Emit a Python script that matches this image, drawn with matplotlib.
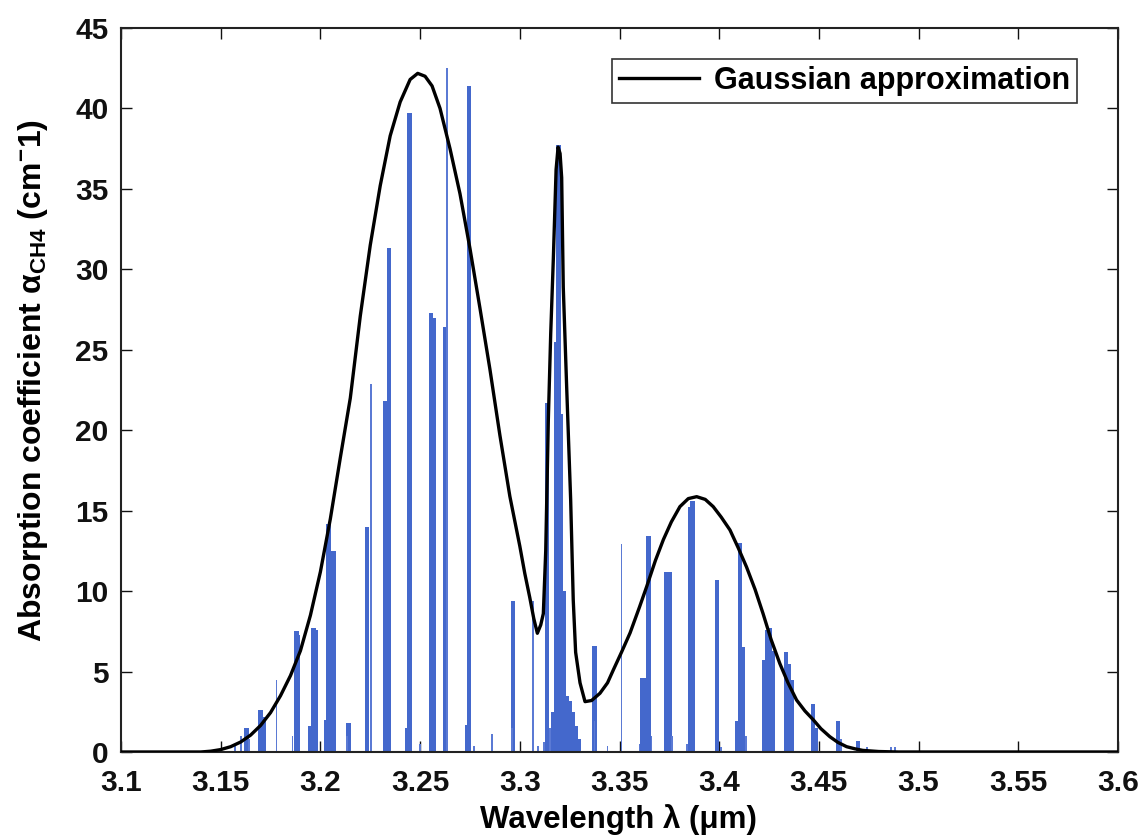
import matplotlib
matplotlib.use("Agg")
import matplotlib.pyplot as plt

plt.rcParams['font.family'] = ['Liberation Sans', 'DejaVu Sans']
plt.rcParams['font.weight'] = 'bold'
plt.rcParams['mathtext.fontset'] = 'custom'
plt.rcParams['mathtext.rm'] = 'Liberation Sans:bold'
plt.rcParams['mathtext.bf'] = 'Liberation Sans:bold'
plt.rcParams['mathtext.it'] = 'Liberation Sans:italic:bold'

# ---------------- data ----------------
# strong absorption lines (wavelength um, absorption cm^-1)
lines_x = [3.163, 3.170, 3.1715, 3.188, 3.1888, 3.195, 3.1965, 3.1975,
           3.203, 3.204, 3.2065, 3.2140, 3.2235, 3.2325, 3.2345, 3.2433,
           3.2446, 3.2555, 3.2567, 3.2628, 3.2735, 3.2745,
           3.2967, 3.3135, 3.3165, 3.3185, 3.3195, 3.3205, 3.3220,
           3.3175, 3.3235, 3.3250, 3.3265, 3.3280, 3.3295,
           3.3375, 3.3612, 3.3628, 3.3645, 3.3735, 3.3750, 3.3853, 3.3866,
           3.3990, 3.4088, 3.4104, 3.4118, 3.4225, 3.4240, 3.4255, 3.4270,
           3.4335, 3.4348, 3.4362, 3.4470, 3.4485, 3.4596, 3.4696]
lines_h = [1.5, 2.6, 2.2, 7.5, 7.3, 1.6, 7.7, 7.6,
           2.0, 14.2, 12.5, 1.8, 14.0, 21.8, 31.3, 1.5,
           39.7, 27.3, 27.0, 26.4, 1.7, 41.4,
           9.4, 21.7, 2.5, 25.5, 37.7, 21.0, 10.0,
           2.2, 3.5, 3.2, 2.5, 1.6, 0.8,
           6.6, 4.6, 4.6, 13.4, 11.2, 11.2, 15.2, 15.6,
           10.7, 1.9, 13.0, 6.5, 5.7, 7.6, 7.7, 6.3,
           6.2, 5.5, 4.5, 3.0, 1.5, 1.9, 0.7]

# weak / narrow absorption lines
thin_x = [3.157, 3.160, 3.164, 3.178, 3.186, 3.2135, 3.2252, 3.2500,
          3.2633, 3.2770, 3.2860, 3.2960, 3.3068, 3.3090, 3.3120,
          3.3150, 3.3375, 3.3440, 3.3510, 3.3600, 3.3660, 3.3765,
          3.3840, 3.4010, 3.4135, 3.4610, 3.4740, 3.4860, 3.4880]
thin_h = [0.5, 1.0, 0.8, 4.5, 1.0, 1.0, 22.9, 0.5,
          42.5, 0.4, 1.1, 1.5, 9.4, 0.4, 0.6,
          1.5, 1.9, 0.4, 12.9, 0.5, 1.0, 1.0,
          0.5, 0.3, 1.0, 0.8, 0.3, 0.3, 0.3]

# Gaussian approximation curve
curve_x = [3.100, 3.140, 3.145, 3.150, 3.155, 3.160, 3.165, 3.170, 3.175,
           3.180, 3.185, 3.190, 3.195, 3.200, 3.205, 3.210, 3.215, 3.220,
           3.225, 3.230, 3.235, 3.240, 3.245, 3.2488, 3.2525, 3.256, 3.260,
           3.265, 3.270, 3.275, 3.280, 3.285, 3.290, 3.295, 3.300, 3.3025,
           3.305, 3.307, 3.3088, 3.3105, 3.3118, 3.3130, 3.3143, 3.3155,
           3.3168, 3.3182, 3.3192, 3.3202, 3.3210, 3.3218, 3.3235, 3.3255,
           3.3268, 3.3280, 3.3302, 3.3327, 3.3360, 3.3402, 3.3440, 3.3469,
           3.3510, 3.3553, 3.3600, 3.3636, 3.3680, 3.3720, 3.3760, 3.3803,
           3.3845, 3.3887, 3.3930, 3.3970, 3.4010, 3.4054, 3.4095, 3.4137,
           3.4180, 3.4220, 3.4260, 3.4304, 3.4345, 3.4388, 3.4430, 3.4472,
           3.4510, 3.4555, 3.4595, 3.4639, 3.4680, 3.4720, 3.4800, 3.4900,
           3.6000]
curve_y = [0.0, 0.0, 0.05, 0.15, 0.33, 0.62, 1.05, 1.65, 2.45,
           3.5, 4.75, 6.3, 8.5, 11.2, 14.5, 18.3, 22.0, 27.1,
           31.5, 35.2, 38.3, 40.4, 41.8, 42.18, 42.0, 41.4, 40.0,
           37.5, 34.7, 31.3, 27.6, 23.8, 19.7, 15.9, 12.8, 11.1,
           9.6, 8.3, 7.38, 7.9, 8.6, 12.5, 20.6, 26.0,
           30.6, 36.2, 37.6, 37.2, 35.7, 28.9, 22.7, 15.7,
           9.45, 6.2, 4.3, 3.13, 3.2, 3.65, 4.3, 5.1,
           6.2, 7.4, 9.0, 10.27, 11.9, 13.2, 14.3, 15.25,
           15.75, 15.87, 15.7, 15.25, 14.6, 13.8, 12.7, 11.5,
           10.1, 8.6, 7.0, 5.5, 4.3, 3.23, 2.55, 2.0,
           1.45, 0.95, 0.6, 0.33, 0.2, 0.1, 0.03, 0.0,
           0.0]

x_ticks = [3.1, 3.15, 3.2, 3.25, 3.3, 3.35, 3.4, 3.45, 3.5, 3.55, 3.6]
x_tick_labels = ['3.1', '3.15', '3.2', '3.25', '3.3', '3.35', '3.4', '3.45',
                 '3.5', '3.55', '3.6']
y_ticks = [0, 5, 10, 15, 20, 25, 30, 35, 40, 45]
y_tick_labels = ['0', '5', '10', '15', '20', '25', '30', '35', '40', '45']

legend_label = 'Gaussian approximation'
x_label = 'Wavelength λ (μm)'
y_label = r'Absorption coefficient α$_{\mathregular{CH4}}$ (cm$^{\mathregular{-}}$1)'

# ---------------- figure ----------------
W, H = 1138, 836
fig = plt.figure(figsize=(W / 100, H / 100), dpi=100)
L, R, T, B = 121, 1118, 28, 752
ax = fig.add_axes([L / W, 1 - B / H, (R - L) / W, (B - T) / H])

bar_color = '#4468cc'
ax.bar(lines_x, lines_h, width=0.0022, color=bar_color, linewidth=0, zorder=2)
ax.bar(thin_x, thin_h, width=0.0009, color='#5b7ad4', linewidth=0, zorder=2)

ax.plot(curve_x, curve_y, color='black', linewidth=2.4, zorder=3,
        solid_joinstyle='round', label=legend_label)

ax.set_xlim(3.1, 3.6)
ax.set_ylim(0, 45)
ax.set_xticks(x_ticks)
ax.set_xticklabels(x_tick_labels)
ax.set_yticks(y_ticks)
ax.set_yticklabels(y_tick_labels)

for sp in ax.spines.values():
    sp.set_linewidth(1.5)
    sp.set_color('#222222')

ax.tick_params(direction='in', length=8, width=1.0, top=True, right=True,
               labelsize=21.5, colors='#111111')
ax.tick_params(axis='x', pad=12.5)
ax.tick_params(axis='y', pad=9)
for lab in ax.get_xticklabels() + ax.get_yticklabels():
    lab.set_fontweight('bold')

ax.set_xlabel(x_label, fontsize=22.5, fontweight='bold')
ax.set_ylabel(y_label, fontsize=23, fontweight='bold')
ax.xaxis.set_label_coords((618 - L) / (R - L), (B - 804) / (B - T))
ax.yaxis.set_label_coords((50 - L) / (R - L), (B - 380) / (B - T))

leg = ax.legend(loc='upper right',
                bbox_to_anchor=((1077 - L) / (R - L), (B - 59) / (B - T)),
                borderaxespad=0, frameon=True, fancybox=False,
                edgecolor='#333333', framealpha=1, handlelength=2.6,
                handletextpad=0.5, borderpad=0.23,
                prop={'size': 22, 'weight': 'bold'})
leg.get_frame().set_linewidth(1.2)

fig.savefig('out.png', dpi=100)
